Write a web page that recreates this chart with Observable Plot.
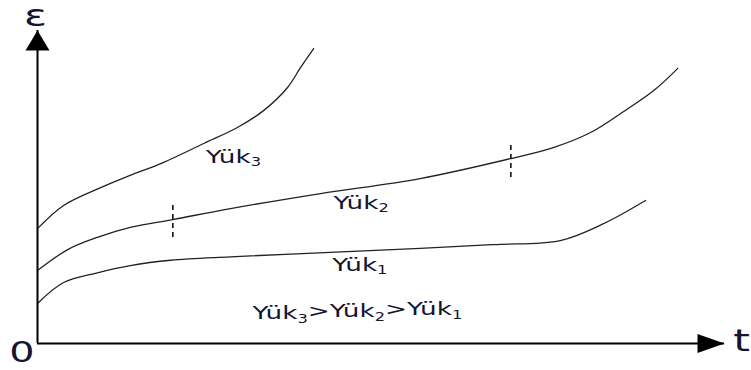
<!DOCTYPE html>
<html>
<head>
<meta charset="utf-8">
<script src="https://cdn.jsdelivr.net/npm/d3@7"></script>
<script src="https://cdn.jsdelivr.net/npm/@observablehq/plot@0.6"></script>
<style>
  html, body { margin: 0; padding: 0; background: #fff; }
  svg { overflow: visible; }
</style>
</head>
<body>
<div id="chart"></div>
<script>
// Creep curves: strain (ε) vs time (t), arbitrary units
const yuk3T = [0, 3.8, 9.2, 13.5, 18.3, 24.2, 29.1, 32.9, 36.4, 38.3, 40.2];
const yuk3E = [36.7, 44.1, 49.8, 53.7, 57.8, 63.9, 69.0, 74.4, 81.8, 88.2, 94.2];

const yuk2T = [0, 4.4, 8.7, 13.5, 19.7, 28.1, 41.2, 55.7, 68.9, 75.1, 80.5, 84.9, 89.7, 93.2];
const yuk2E = [23.3, 30.0, 33.9, 37.1, 39.6, 43.1, 47.9, 52.7, 59.1, 62.6, 67.4, 73.5, 80.8, 87.9];

const yuk1T = [0, 3.8, 8.7, 13.5, 19.4, 28.1, 42.6, 55.7, 66.4, 76.1, 82.4, 88.5];
const yuk1E = [12.8, 19.5, 22.6, 24.9, 26.6, 27.7, 29.1, 30.4, 31.6, 32.9, 38.3, 45.7];

// stage boundaries on Yük2 curve (dashed markers)
const markT = [19.7, 68.9];
const markE1 = [33.9, 53.0];
const markE2 = [44.7, 64.2];

// curve labels
const labelText = ["Yük₃", "Yük₂", "Yük₁", "Yük₃>Yük₂>Yük₁"];
const labelT = [24.5, 43.1, 42.9, 31.3];
const labelE = [59.7, 45.0, 25.2, 9.6];

// axis labels
const axisText = ["ε", "0", "t"];
const axisT = [-0.3, -2.26, 102.5];
const axisE = [104.4, -3.2, 0.83];
const axisSize = [30, 28, 30];

const xMax = 100, yMax = 100;

const toRows = (T, E, name) => T.map((t, i) => ({t, e: E[i], name}));
const curves = [
  ...toRows(yuk3T, yuk3E, "Yük3"),
  ...toRows(yuk2T, yuk2E, "Yük2"),
  ...toRows(yuk1T, yuk1E, "Yük1")
];
const marks = markT.map((t, i) => ({t, e1: markE1[i], e2: markE2[i]}));
const labels = labelText.map((s, i) => ({s, t: labelT[i], e: labelE[i]}));
const axisLabels = axisText.map((s, i) => ({s, t: axisT[i], e: axisE[i], size: axisSize[i]}));

const arrowUp = { draw(ctx) { ctx.moveTo(0, 0); ctx.lineTo(-12, 20); ctx.lineTo(12, 20); ctx.closePath(); } };
const arrowRight = { draw(ctx) { ctx.moveTo(0, 0); ctx.lineTo(-27, -9.5); ctx.lineTo(-27, 9.5); ctx.closePath(); } };

const textColor = "#151530";
const font = "DejaVu Sans, Verdana, sans-serif";

const chart = Plot.plot({
  width: 751,
  height: 370,
  marginLeft: 37,
  marginRight: 27,
  marginTop: 30,
  marginBottom: 27,
  x: {domain: [0, xMax], axis: null},
  y: {domain: [0, yMax], axis: null},
  style: {background: "#fff", fontFamily: font},
  marks: [
    Plot.line(curves, {x: "t", y: "e", z: "name", curve: "catmull-rom", stroke: "#222", strokeWidth: 1.3}),
    Plot.ruleX(marks, {x: "t", y1: "e1", y2: "e2", stroke: "#111", strokeWidth: 1.6, strokeDasharray: "5,4"}),
    Plot.ruleX([0], {y1: 0, y2: yMax, stroke: "#000", strokeWidth: 2}),
    Plot.ruleY([0], {x1: 0, x2: xMax, stroke: "#000", strokeWidth: 2}),
    Plot.dot([{t: 0, e: yMax}], {x: "t", y: "e", symbol: arrowUp, fill: "#000", stroke: "none"}),
    Plot.dot([{t: xMax, e: 0}], {x: "t", y: "e", symbol: arrowRight, fill: "#000", stroke: "none"}),
    Plot.text(labels, {x: "t", y: "e", text: "s", textAnchor: "start", fontSize: 18.5, fill: textColor}),
    Plot.text(axisLabels, {x: "t", y: "e", text: "s", textAnchor: "middle", fontSize: "size", fill: textColor})
  ]
});

// horizontal stretch of lettering, and real subscripts
const subs = {"₁": "1", "₂": "2", "₃": "3"};
chart.querySelectorAll('g[aria-label="text"] text').forEach(el => {
  const tr = el.getAttribute("transform") || "";
  el.setAttribute("transform", tr + " scale(1.42,1)");
  const s = el.textContent;
  if (/[₁₂₃]/.test(s)) {
    while (el.firstChild) el.removeChild(el.firstChild);
    const parts = s.split(/([₁₂₃])/).filter(p => p.length);
    const ns = "http://www.w3.org/2000/svg";
    let lowered = false;
    parts.forEach(p => {
      const ts = document.createElementNS(ns, "tspan");
      if (subs[p]) {
        ts.textContent = subs[p];
        ts.setAttribute("font-size", "0.62em");
        ts.setAttribute("dy", lowered ? "0" : "0.28em");
        lowered = true;
      } else {
        ts.textContent = p;
        if (lowered) { ts.setAttribute("dy", "-0.28em"); lowered = false; }
      }
      el.appendChild(ts);
    });
  }
});

document.getElementById("chart").appendChild(chart);
</script>
</body>
</html>
